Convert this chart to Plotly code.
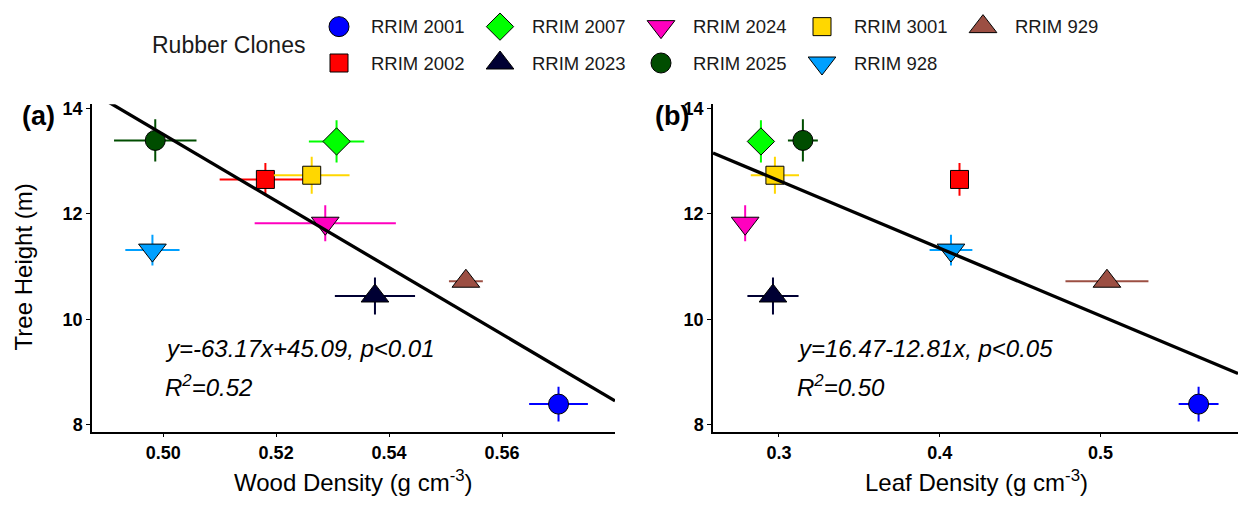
import plotly.graph_objects as go

# ---------------- data ----------------
clones = ["RRIM 2001", "RRIM 2002", "RRIM 2007", "RRIM 2023", "RRIM 2024",
          "RRIM 2025", "RRIM 3001", "RRIM 928", "RRIM 929"]
tree_height = [8.39, 12.65, 13.37, 10.44, 11.82, 13.39, 12.73, 11.31, 10.72]
tree_height_err = [0.33, 0.31, 0.40, 0.35, 0.34, 0.40, 0.35, 0.29, 0.06]
wood_density = [0.5700, 0.5181, 0.5307, 0.5375, 0.5287, 0.4986, 0.5263, 0.4981, 0.5536]
wood_density_err = [0.0052, 0.0081, 0.0049, 0.0071, 0.0125, 0.0073, 0.0067, 0.0048, 0.0030]
leaf_density = [0.5610, 0.4123, 0.2888, 0.2963, 0.2790, 0.3149, 0.2975, 0.4070, 0.5040]
leaf_density_err = [0.0124, 0.0040, 0.0020, 0.0159, 0.0010, 0.0093, 0.0150, 0.0133, 0.0258]

# regression coefficients (from the printed equations)
wood_fit = dict(intercept=45.09, slope=-63.17)
leaf_fit = dict(intercept=16.47, slope=-12.81)
wood_eq = "y=-63.17x+45.09, p<0.01"
wood_r2 = "R<sup>2</sup>=0.52"
leaf_eq = "y=16.47-12.81x, p<0.05"
leaf_r2 = "R<sup>2</sup>=0.50"

wood_ticks = [0.50, 0.52, 0.54, 0.56]
leaf_ticks = [0.3, 0.4, 0.5]
height_ticks = [8, 10, 12, 14]

# ---------------- styles ----------------
colors = ["#0000FF", "#FF0000", "#00FF00", "#000033", "#FF00BF",
          "#004D00", "#FFD700", "#00A0FF", "#9C4F43"]
symbols = ["circle", "square", "diamond", "triangle-up", "triangle-down",
           "circle", "square", "triangle-down", "triangle-up"]
sizes = [20, 18, 21, 24, 24, 20, 18, 24, 24]

W, H = 1238, 523
FONT = "Liberation Sans, Arial, sans-serif"

def px_x(p):
    return p / W

def px_y(p):
    return 1 - p / H

wood_range = [0.4874, 0.5800]
leaf_range = [0.2590, 0.5855]
height_range = [7.87, 14.075]

fig = go.Figure()

panels = [
    (wood_density, wood_density_err, "x", "y", wood_fit, wood_range),
    (leaf_density, leaf_density_err, "x2", "y2", leaf_fit, leaf_range),
]
for xs, xe, xa, ya, fit, xr in panels:
    for i, c in enumerate(clones):
        fig.add_trace(go.Scatter(
            x=[xs[i]], y=[tree_height[i]], mode="markers", name=c,
            error_x=dict(type="data", array=[xe[i]], color=colors[i], thickness=2, width=0),
            error_y=dict(type="data", array=[tree_height_err[i]], color=colors[i], thickness=2, width=0),
            marker=dict(symbol=symbols[i], size=sizes[i], color=colors[i],
                        line=dict(color="black", width=1)),
            xaxis=xa, yaxis=ya, showlegend=False, cliponaxis=False, hoverinfo="skip"))
    lx = [xr[0], xr[1]]
    ly = [fit["intercept"] + fit["slope"] * v for v in lx]
    fig.add_trace(go.Scatter(x=lx, y=ly, mode="lines", line=dict(color="black", width=3.3),
                             xaxis=xa, yaxis=ya, showlegend=False, hoverinfo="skip"))

# ---------------- manual legend (2 rows, column-major like ggplot) ----------------
leg_cols = [i // 2 for i in range(len(clones))]
leg_rows = [i % 2 for i in range(len(clones))]
for i, c in enumerate(clones):
    fig.add_trace(go.Scatter(
        x=[leg_cols[i]], y=[leg_rows[i]], mode="markers",
        marker=dict(symbol=symbols[i], size=sizes[i], color=colors[i],
                    line=dict(color="black", width=1)),
        xaxis="x3", yaxis="y3", showlegend=False, cliponaxis=False, hoverinfo="skip"))

annotations = []
for i, c in enumerate(clones):
    annotations.append(dict(x=leg_cols[i], y=leg_rows[i], xref="x3", yref="y3",
                            text=c, showarrow=False, xanchor="left", yanchor="middle",
                            xshift=30, font=dict(family=FONT, size=18.5, color="#1a1a1a")))
annotations.append(dict(x=px_x(150), y=px_y(40), xref="paper", yref="paper",
                        text="Rubber Clones", showarrow=False, xanchor="left", yanchor="middle",
                        font=dict(family=FONT, size=23, color="#1a1a1a")))

# panel labels
annotations.append(dict(x=px_x(20), y=px_y(112), xref="paper", yref="paper", text="<b>(a)</b>",
                        showarrow=False, xanchor="left", yanchor="middle",
                        font=dict(family=FONT, size=27, color="black")))
annotations.append(dict(x=px_x(653), y=px_y(112), xref="paper", yref="paper", text="<b>(b)</b>",
                        showarrow=False, xanchor="left", yanchor="middle",
                        font=dict(family=FONT, size=27, color="black")))

# axis titles
annotations.append(dict(x=px_x(23), y=px_y(266), xref="paper", yref="paper", text="Tree Height (m)",
                        showarrow=False, textangle=-90, xanchor="center", yanchor="middle",
                        font=dict(family=FONT, size=24, color="black")))
annotations.append(dict(x=px_x(353), y=px_y(483), xref="paper", yref="paper",
                        text="Wood Density (g cm<sup>-3</sup>)",
                        showarrow=False, xanchor="center", yanchor="middle",
                        font=dict(family=FONT, size=24, color="black")))
annotations.append(dict(x=px_x(976), y=px_y(483), xref="paper", yref="paper",
                        text="Leaf Density (g cm<sup>-3</sup>)",
                        showarrow=False, xanchor="center", yanchor="middle",
                        font=dict(family=FONT, size=24, color="black")))

# equations
for xpx, eq, r2 in [(163, wood_eq, wood_r2), (795, leaf_eq, leaf_r2)]:
    annotations.append(dict(x=px_x(xpx), y=px_y(349), xref="paper", yref="paper",
                            text="<i>" + eq + "</i>", showarrow=False, xanchor="left",
                            yanchor="middle", font=dict(family=FONT, size=24, color="black")))
    annotations.append(dict(x=px_x(xpx), y=px_y(387), xref="paper", yref="paper",
                            text="<i>" + r2 + "</i>", showarrow=False, xanchor="left",
                            yanchor="middle", font=dict(family=FONT, size=24, color="black")))

axis_common = dict(showline=True, linecolor="black", linewidth=1.5, ticks="outside",
                   ticklen=4, tickwidth=1, tickcolor="black", showgrid=False, zeroline=False,
                   tickfont=dict(family=FONT, size=18, color="black", weight="bold"))

ydom = [px_y(433), px_y(100)]

# legend axis scale: 161 px per column, first column centre at 339 px
col_step = 161.0
x3_range = [-339 / col_step, (W - 339) / col_step]
row_step = 37.0
band = 80.0
y3_range = [(band - 21) / row_step, -21 / row_step]

fig.update_layout(
    width=W, height=H,
    margin=dict(l=0, r=0, t=0, b=0),
    paper_bgcolor="white", plot_bgcolor="white",
    showlegend=False,
    xaxis=dict(domain=[px_x(92), px_x(615)], range=wood_range, anchor="y",
               tickvals=wood_ticks, tickformat=".2f", **axis_common),
    yaxis=dict(domain=ydom, range=height_range, anchor="x", tickvals=height_ticks, **axis_common),
    xaxis2=dict(domain=[px_x(713), 1.0], range=leaf_range, anchor="y2",
                tickvals=leaf_ticks, tickformat=".1f", **axis_common),
    yaxis2=dict(domain=ydom, range=height_range, anchor="x2", tickvals=height_ticks, **axis_common),
    xaxis3=dict(domain=[0, 1], range=x3_range, visible=False, anchor="y3"),
    yaxis3=dict(domain=[px_y(band), 1], range=y3_range, visible=False, anchor="x3"),
    annotations=annotations,
)

fig.write_html("out.html")
